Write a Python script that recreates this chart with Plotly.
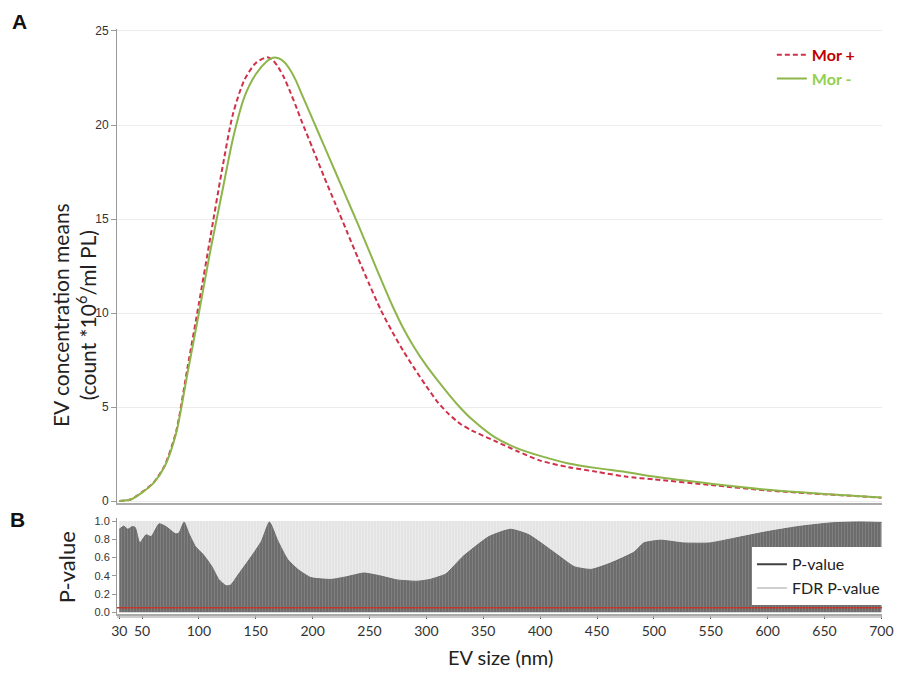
import plotly.graph_objects as go
from plotly.subplots import make_subplots

# ---------------- data ----------------
ev_size = [30, 40, 50, 60, 70, 80, 90, 100, 110, 120, 130, 140, 150, 160, 165, 170, 175, 180, 185,
           190, 200, 210, 220, 230, 240, 250, 260, 270, 280, 290, 300, 310, 320, 330, 340, 360,
           380, 400, 425, 450, 475, 500, 550, 600, 650, 700]
mor_plus = [0.0, 0.08, 0.48, 0.97, 1.9, 3.7, 7.1, 10.5, 14.0, 17.5, 20.6, 22.4, 23.3, 23.6, 23.45, 23.05, 22.5, 21.8, 21.05,
            20.25, 18.75, 17.25, 15.8, 14.35, 12.9, 11.5, 10.15, 9.0, 7.95, 7.0, 6.1, 5.25, 4.6, 4.1, 3.75, 3.2,
            2.65, 2.15, 1.8, 1.55, 1.3, 1.15, 0.85, 0.56, 0.36, 0.18]
mor_minus = [0.0, 0.08, 0.45, 0.95, 1.85, 3.6, 6.8, 10.0, 13.3, 16.3, 19.3, 21.5, 22.7, 23.4, 23.58, 23.55, 23.35, 22.95, 22.4,
             21.7, 20.3, 18.9, 17.5, 16.1, 14.7, 13.25, 11.8, 10.4, 9.15, 8.1, 7.2, 6.4, 5.65, 4.95, 4.35, 3.4,
             2.8, 2.4, 2.0, 1.75, 1.55, 1.3, 0.92, 0.6, 0.38, 0.19]

p_size = [30, 34, 37.5, 41.5, 44, 48, 53.5, 58, 65, 71, 79.5, 82.5, 87, 91, 97, 104, 111.5,
          117.5, 124, 128, 135, 146, 155, 162, 169.5, 178, 187, 198.5, 216, 230, 245, 259,
          274, 292, 303, 317, 332, 355, 374, 390, 413, 430, 445, 462, 482.6, 491, 506, 526,
          549, 570, 598, 627, 656, 680, 697, 700]
p_value = [0.91, 0.945, 0.91, 0.94, 0.93, 0.76, 0.85, 0.83, 0.97, 0.94, 0.86, 0.87, 0.99, 0.87,
           0.72, 0.63, 0.50, 0.36, 0.29, 0.30, 0.42, 0.61, 0.78, 0.99, 0.78, 0.58, 0.47, 0.38,
           0.36, 0.39, 0.43, 0.40, 0.355, 0.34, 0.36, 0.42, 0.61, 0.83, 0.91, 0.85, 0.65, 0.50,
           0.47, 0.54, 0.66, 0.76, 0.79, 0.76, 0.76, 0.81, 0.88, 0.94, 0.98, 0.99, 0.985, 0.985]
fdr_size = [30, 100, 200, 300, 400, 500, 600, 700]
fdr_p_value = [1.0, 1.0, 1.0, 1.0, 1.0, 1.0, 1.0, 1.0]
threshold = 0.05

x_ticks = [30, 50, 100, 150, 200, 250, 300, 350, 400, 450, 500, 550, 600, 650, 700]
y_ticks_top = [0, 5, 10, 15, 20, 25]
y_ticks_bot = [0.0, 0.2, 0.4, 0.6, 0.8, 1.0]

# ---------------- figure ----------------
CAL = "Lato, 'Open Sans', sans-serif"
ARI = "'Liberation Sans', Arial, sans-serif"

fig = make_subplots(rows=2, cols=1, shared_xaxes=True, vertical_spacing=0.0)

fig.add_trace(go.Scatter(
    x=ev_size, y=mor_plus, mode="lines",
    line=dict(color="#d03049", width=2, dash="5px,3px", shape="spline", smoothing=0.7),
    name="<span style='color:#c00000'><b>Mor +</b></span>", legend="legend"), row=1, col=1)
fig.add_trace(go.Scatter(
    x=ev_size, y=mor_minus, mode="lines", line=dict(color="#8db54a", width=2, shape="spline", smoothing=0.7),
    name="<span style='color:#92d050'><b>Mor -</b></span>", legend="legend"), row=1, col=1)

# FDR p-value (light bars)
fig.add_trace(go.Scatter(
    x=fdr_size, y=fdr_p_value, mode="lines", line=dict(color="#e6e6e6", width=0),
    fill="tozeroy", fillcolor="#e6e6e6",
    fillpattern=dict(shape="|", bgcolor="#e4e4e4", fgcolor="#f8f8f8", size=3, solidity=0.25),
    showlegend=False, hoverinfo="skip"), row=2, col=1)
# P-value (dark bars)
fig.add_trace(go.Scatter(
    x=p_size, y=p_value, mode="lines", line=dict(color="#6a6a6a", width=1, shape="spline", smoothing=0.5),
    fill="tozeroy", fillcolor="#707070",
    fillpattern=dict(shape="|", bgcolor="#6c6c6c", fgcolor="#9a9a9a", size=3, solidity=0.3),
    showlegend=False), row=2, col=1)
# legend entries for bottom panel
fig.add_trace(go.Scatter(x=[None], y=[None], mode="lines", line=dict(color="#404040", width=2),
                         name="P-value", legend="legend2"), row=2, col=1)
fig.add_trace(go.Scatter(x=[None], y=[None], mode="lines", line=dict(color="#d0d0d0", width=2),
                         name="FDR P-value", legend="legend2"), row=2, col=1)

# significance threshold
fig.add_hline(y=threshold, line=dict(color="#c0392b", width=1.5), row=2, col=1)

xr = [28, 700.5]
fig.update_xaxes(range=xr, showgrid=False, zeroline=False, automargin=False)
fig.update_xaxes(row=1, col=1, showticklabels=False, showline=True, linecolor="#aaaaaa", linewidth=1.5, ticks="")
fig.update_xaxes(row=2, col=1, tickvals=x_ticks, ticks="outside", ticklen=3, tickcolor="#555",
                 showline=True, linecolor="#aaaaaa", linewidth=1.5,
                 tickfont=dict(family=CAL, size=14, color="#333"))

fig.update_yaxes(row=1, col=1, range=[-0.106, 25.106], tickvals=y_ticks_top, showgrid=True, gridcolor="#ececec",
                 zeroline=False, showline=True, linecolor="#999", linewidth=1, ticks="outside", ticklen=5,
                 tickcolor="#999", tickfont=dict(family=ARI, size=12, color="#333"), automargin=False)
fig.update_yaxes(row=2, col=1, range=[-0.019, 1.033], tickvals=y_ticks_bot, tickformat=".1f", showgrid=False,
                 zeroline=False, showline=True, linecolor="#999", linewidth=1, ticks="outside", ticklen=4,
                 tickcolor="#999", tickfont=dict(family=ARI, size=11, color="#333"), automargin=False)

# page body has an 8px margin: figure is sized to fit inside the 903x679 window
fig.update_layout(
    width=887, height=663,
    margin=dict(l=109, r=13, t=21, b=57, autoexpand=False),
    paper_bgcolor="white", plot_bgcolor="white",
    yaxis=dict(domain=[0.1897, 1.0]),
    yaxis2=dict(domain=[0.0, 0.164]),
    legend=dict(x=0.856, y=0.985, xanchor="left", yanchor="top", bgcolor="rgba(0,0,0,0)",
                font=dict(family=CAL, size=16), tracegroupgap=0, itemwidth=30),
    legend2=dict(x=0.830, y=0.114, xanchor="left", yanchor="top", bgcolor="white",
                 font=dict(family=CAL, size=16, color="#222"), itemwidth=30),
    shapes=[
        dict(type="line", xref="x domain", yref="y domain", x0=0, x1=1, y0=-0.007, y1=-0.007,
             line=dict(color="#bbbbbb", width=1.5)),
        dict(type="line", xref="x2 domain", yref="y2 domain", x0=0, x1=1, y0=-0.03, y1=-0.03,
             line=dict(color="#bbbbbb", width=1.5)),
    ],
)

ann = [
    dict(text="<b>A</b>", x=-0.1268, y=1.012, font=dict(family=ARI, size=21, color="#111")),
    dict(text="<b>B</b>", x=-0.1307, y=0.1607, font=dict(family=ARI, size=21, color="#111")),
    dict(text="EV concentration means<br>(count *10<sup>6</sup>/ml PL)", x=-0.0562, y=0.511, textangle=-90,
         font=dict(family=CAL, size=21, color="#222")),
    dict(text="P-value", x=-0.0667, y=0.080, textangle=-90, font=dict(family=CAL, size=22, color="#222")),
    dict(text="EV size (nm)", x=0.5007, y=-0.074, font=dict(family=CAL, size=20, color="#222")),
]
for a in ann:
    fig.add_annotation(xref="paper", yref="paper", showarrow=False, xanchor="center", yanchor="middle", **a)

fig.write_html("out.html")
